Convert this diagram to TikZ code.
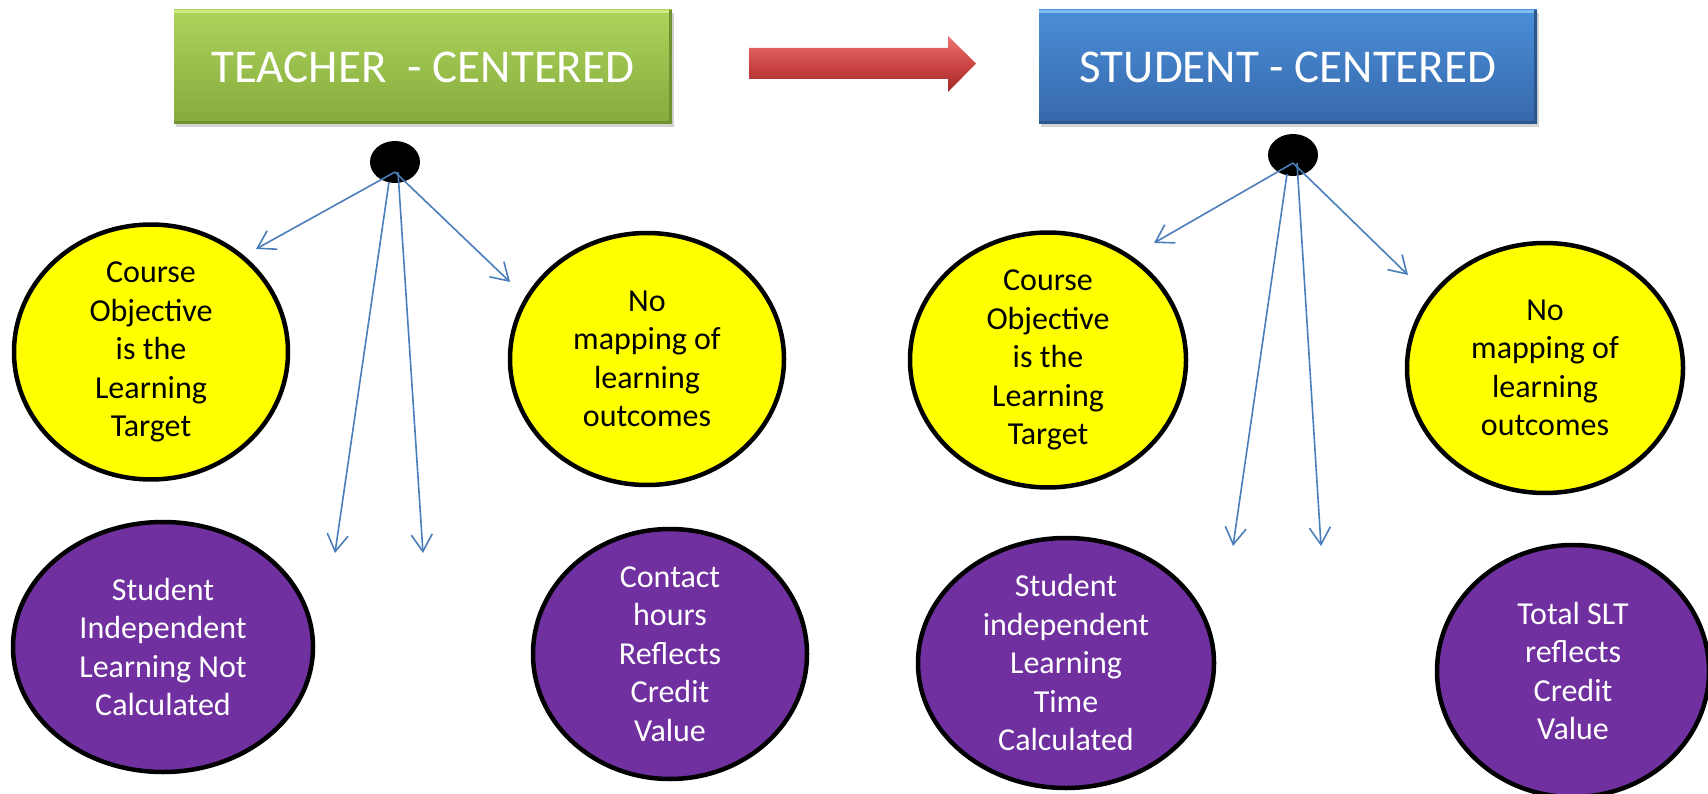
\documentclass[tikz,border=0pt]{standalone}
\usepackage{fontspec}
\setmainfont{Carlito}
\usetikzlibrary{shapes.geometric,arrows.meta,shadows}
\definecolor{yellowF}{RGB}{255,255,0}
\definecolor{purpleF}{RGB}{112,48,160}
\definecolor{connBlue}{RGB}{74,126,187}
\definecolor{grTop}{RGB}{172,212,92}
\definecolor{grBot}{RGB}{134,170,60}
\definecolor{grHi}{RGB}{206,236,128}
\definecolor{grLo}{RGB}{112,146,48}
\definecolor{blTop}{RGB}{74,142,216}
\definecolor{blBot}{RGB}{54,104,170}
\definecolor{blHi}{RGB}{130,188,244}
\definecolor{blLo}{RGB}{44,86,142}
\definecolor{rdTop}{RGB}{236,116,114}
\definecolor{rdMid}{RGB}{204,70,68}
\definecolor{rdBot}{RGB}{160,42,42}
\begin{document}
\begin{tikzpicture}[x=1pt,y=-1pt,
  hdr/.style={rectangle, minimum width=498pt, minimum height=114pt, inner sep=0pt,
    text=white, font=\fontsize{47}{56}\selectfont,
    drop shadow={opacity=0.35, shadow xshift=2pt, shadow yshift=-3pt}},
  bevel/.style={line width=3pt},
  yel/.style={ellipse, draw=black, line width=4.5pt, fill=yellowF, inner sep=0pt,
    align=center, font=\fontsize{32}{38.5}\selectfont, text=black},
  pur/.style={ellipse, draw=black, line width=4.5pt, fill=purpleF, inner sep=0pt,
    align=center, font=\fontsize{32}{38.5}\selectfont, text=white},
  dotn/.style={ellipse, fill=black, minimum width=50pt, minimum height=42pt, inner sep=0pt},
  conn/.style={draw=connBlue, line width=1.6pt, -{Straight Barb[length=17pt,width=21pt]}}
]
\useasboundingbox (0,0) rectangle (1708,794);
\clip (0,0) rectangle (1708,794);

% header boxes
\node[hdr, top color=grTop, bottom color=grBot] (teacher) at (423,67) {TEACHER\ \ - CENTERED};
\node[hdr, top color=blTop, bottom color=blBot] (student) at (1288,67) {STUDENT - CENTERED};
\draw[bevel, grHi] ([yshift=-1.5pt]teacher.north west) -- ([yshift=-1.5pt]teacher.north east);
\draw[bevel, grLo] ([xshift=-1.5pt]teacher.north east) -- ([xshift=-1.5pt]teacher.south east);
\draw[bevel, grLo] ([yshift=1.5pt]teacher.south west) -- ([yshift=1.5pt]teacher.south east);
\draw[bevel, blHi] ([yshift=-1.5pt]student.north west) -- ([yshift=-1.5pt]student.north east);
\draw[bevel, blLo] ([xshift=-1.5pt]student.north east) -- ([xshift=-1.5pt]student.south east);
\draw[bevel, blLo] ([yshift=1.5pt]student.south west) -- ([yshift=1.5pt]student.south east);

% red block arrow
\path[top color=rdTop, bottom color=rdBot, middle color=rdMid]
  (749,48) -- (948,48) -- (948,36) -- (976,63.5) -- (948,92) -- (948,79) -- (749,79) -- cycle;

% dots
\node[dotn] (dL) at (395,162) {};
\node[dotn] (dR) at (1293,155) {};

% yellow ellipses
\node[yel, minimum width=274pt, minimum height=252pt] (y1) at (151,352) {Course\\Objective\\is the\\Learning\\Target};
\node[yel, minimum width=274pt, minimum height=252pt] (y2) at (647,359) {No\\mapping of\\learning\\outcomes};
\node[yel, minimum width=276pt, minimum height=252pt] (y3) at (1048,360) {Course\\Objective\\is the\\Learning\\Target};
\node[yel, minimum width=276pt, minimum height=250pt] (y4) at (1545,368) {No\\mapping of\\learning\\outcomes};

% purple ellipses
\node[pur, minimum width=300pt, minimum height=250pt] (p1) at (163,647) {Student\\Independent\\Learning Not\\Calculated};
\node[pur, minimum width=274pt, minimum height=250pt] (p2) at (670,654) {Contact\\hours\\Reflects\\Credit\\Value};
\node[pur, minimum width=296pt, minimum height=250pt] (p3) at (1066,663) {Student\\independent\\Learning\\Time\\Calculated};
\node[pur, minimum width=272pt, minimum height=252pt] (p4) at (1573,671) {Total SLT\\reflects\\Credit\\Value};

% arrow end points
\coordinate (eL1) at (256,249);
\coordinate (eL2) at (510,282);
\coordinate (eL3) at (335,553);
\coordinate (eL4) at (423,553);
\coordinate (eR1) at (1154,243);
\coordinate (eR2) at (1408,275);
\coordinate (eR3) at (1233,546);
\coordinate (eR4) at (1321,546);

% connectors
\draw[conn] ([yshift=-10pt]dL.center) -- (eL1);
\draw[conn] ([yshift=-10pt]dL.center) -- (eL2);
\draw[conn] ([xshift=-6pt,yshift=-20pt]dL.center) -- (eL3);
\draw[conn] ([xshift=3pt,yshift=-10pt]dL.center) -- (eL4);
\draw[conn] ([yshift=-8pt]dR.center) -- (eR1);
\draw[conn] ([yshift=-8pt]dR.center) -- (eR2);
\draw[conn] ([xshift=-6pt,yshift=-19pt]dR.center) -- (eR3);
\draw[conn] ([xshift=4pt,yshift=-8pt]dR.center) -- (eR4);
\end{tikzpicture}
\end{document}
